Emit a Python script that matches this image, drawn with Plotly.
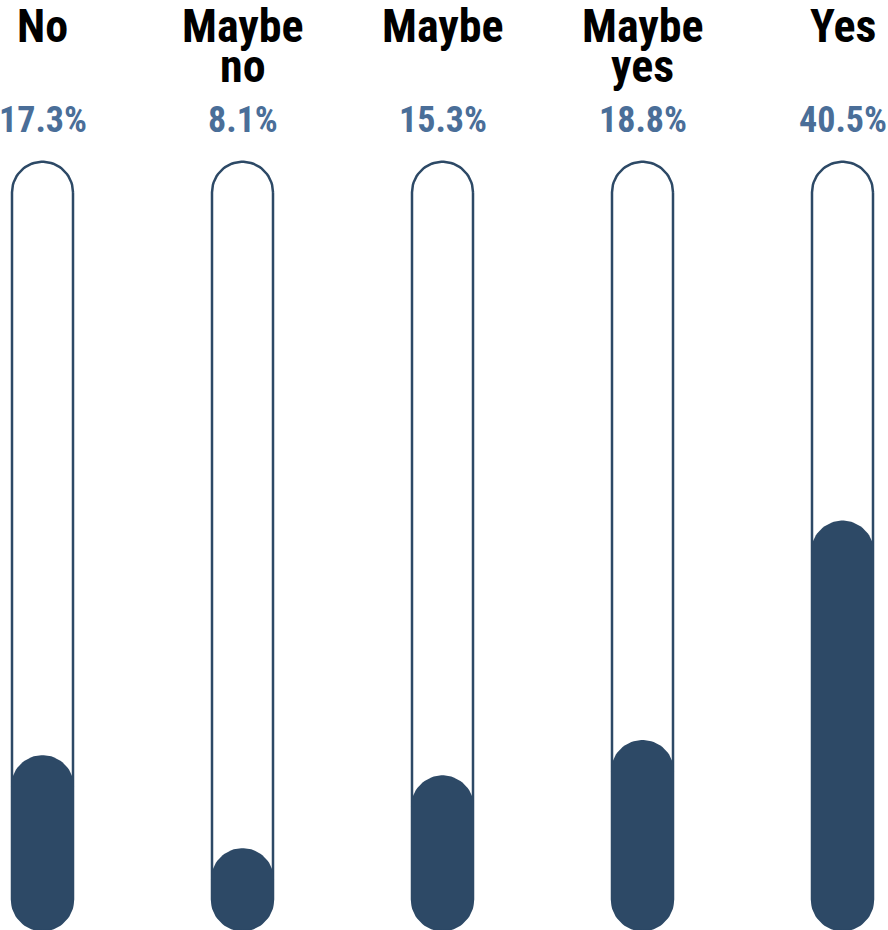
import numpy as np
import plotly.graph_objects as go

# Survey answers and their shares (%)
categories = ["No", "Maybe no", "Maybe", "Maybe yes", "Yes"]
shares = [17.3, 8.1, 15.3, 18.8, 40.5]
share_labels = ["17.3%", "8.1%", "15.3%", "18.8%", "40.5%"]

# Layout constants
W, H = 888, 930
X_MIN, X_MAX = -0.2125, 4.2275          # 200 px per category
Y_MIN, Y_MAX = 0.0, 92.0                # percent axis over the full height
TUBE_TOP = 76.0                         # top of the empty tube, in %
PX_X = W / (X_MAX - X_MIN)
PX_Y = H / (Y_MAX - Y_MIN)

DARK = "#2d4966"
BLUE = "#4a6e98"
FONT = "Roboto Condensed, Open Sans Condensed, Liberation Sans Narrow, sans-serif"


def capsule(xc, y0, y1, half_px, n=40):
    """Closed outline of a vertical pill shape between y0 and y1 (data units)."""
    hw = half_px / PX_X
    ry = half_px / PX_Y
    t_top = np.linspace(0, np.pi, n)
    t_bot = np.linspace(np.pi, 2 * np.pi, n)
    xs = np.concatenate([xc + hw * np.cos(t_top), xc + hw * np.cos(t_bot)])
    ys = np.concatenate([(y1 - ry) + ry * np.sin(t_top), (y0 + ry) + ry * np.sin(t_bot)])
    xs = np.append(xs, xs[0])
    ys = np.append(ys, ys[0])
    return xs, ys


fig = go.Figure()

# empty tubes
for i, _ in enumerate(categories):
    xs, ys = capsule(i, Y_MIN, TUBE_TOP, 30.5)
    fig.add_trace(go.Scatter(x=xs, y=ys, mode="lines", fill="toself",
                             fillcolor="white", line=dict(color=DARK, width=2.5),
                             hoverinfo="skip", showlegend=False))

# filled part of each tube
for i, v in enumerate(shares):
    xs, ys = capsule(i, Y_MIN, v, 31.5)
    fig.add_trace(go.Scatter(x=xs, y=ys, mode="lines", fill="toself",
                             fillcolor=DARK, line=dict(color=DARK, width=0),
                             hoverinfo="text", text=f"{categories[i]}: {share_labels[i]}",
                             showlegend=False))

annotations = []
line_centers = [26.5, 65.5]
for i, cat in enumerate(categories):
    for j, w in enumerate(cat.split(" ")):
        annotations.append(dict(x=i, xref="x", y=1 - line_centers[j] / H, yref="paper",
                                text=f"<b>{w}</b>", showarrow=False,
                                xanchor="center", yanchor="middle",
                                font=dict(family=FONT, size=46, color="#000000")))
    annotations.append(dict(x=i, xref="x", y=1 - 120 / H, yref="paper",
                            text=f"<b>{share_labels[i]}</b>", showarrow=False,
                            xanchor="center", yanchor="middle",
                            font=dict(family=FONT, size=36, color=BLUE)))

fig.update_layout(
    width=W, height=H,
    margin=dict(l=0, r=0, t=0, b=0),
    paper_bgcolor="white", plot_bgcolor="white",
    xaxis=dict(range=[X_MIN, X_MAX], visible=False, fixedrange=True),
    yaxis=dict(range=[Y_MIN, Y_MAX], visible=False, fixedrange=True),
    annotations=annotations,
)

fig.write_html("out.html")
